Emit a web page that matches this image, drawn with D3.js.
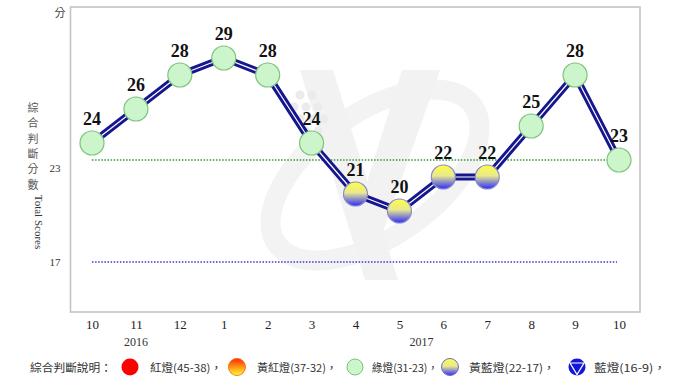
<!DOCTYPE html>
<html><head><meta charset="utf-8">
<script src="https://cdn.jsdelivr.net/npm/d3@7"></script>
<style>
html,body{margin:0;padding:0;background:#fff;}
svg{display:block;}
</style>
</head><body>
<svg id="chart" width="680" height="383"></svg>
<script>
// ---- data ----
const monthLabels = ["10","11","12","1","2","3","4","5","6","7","8","9","10"];
const scores = [24,26,28,29,28,24,21,20,22,22,25,28,23];
const yearLabels = [{text:"2016", at:1}, {text:"2017", at:7.5}];
const yTickValues = [23, 17];
const legendItems = [
  {type:"red", text:"紅燈(45-38)，"},
  {type:"yellowred", text:"黃紅燈(37-32)，"},
  {type:"green", text:"綠燈(31-23)，"},
  {type:"yellowblue", text:"黃藍燈(22-17)，"},
  {type:"blue", text:"藍燈(16-9)，"}
];
const legendTitle = "綜合判斷說明：";
const yTitleChars = ["綜","合","判","斷","分","數"];
const yTitleEn = "Total Scores";
const yUnit = "分";

// ---- drawing ----
const svg = d3.select("#chart");
const defs = svg.append("defs");
const gYB = defs.append("linearGradient").attr("id","gYB").attr("x1",0).attr("y1",0).attr("x2",0).attr("y2",1);
gYB.append("stop").attr("offset","0%").attr("stop-color","#ffff40");
gYB.append("stop").attr("offset","45%").attr("stop-color","#e8e890");
gYB.append("stop").attr("offset","100%").attr("stop-color","#2a2aff");
const gYR = defs.append("linearGradient").attr("id","gYR").attr("x1",0).attr("y1",0).attr("x2",0).attr("y2",1);
gYR.append("stop").attr("offset","0%").attr("stop-color","#ff2a00");
gYR.append("stop").attr("offset","100%").attr("stop-color","#ffff30");

const plotL = 70.5, plotR = 640, plotT = 7, plotB = 312;
const x = d3.scalePoint().domain(d3.range(monthLabels.length)).range([92, 619]);
const y = d3.scaleLinear().domain([14, 32]).range([313, 7]);

// watermark
const wm = svg.append("g").attr("fill","none").attr("stroke","#f3f3f3");
wm.append("ellipse").attr("cx",375).attr("cy",175).attr("rx",120).attr("ry",62)
  .attr("transform","rotate(-35,375,175)").attr("stroke-width",20);
wm.append("path").attr("d","M300,70 L365,280 L398,280 L333,70 Z").attr("fill","#f2f2f2").attr("stroke","none");
wm.append("path").attr("d","M402,70 L440,70 L380,240 L352,230 Z").attr("fill","#f2f2f2").attr("stroke","none");
const dots = [[300,95],[312,95],[294,107],[306,107],[318,107],[300,119],[312,119],[324,119],[306,131],[318,131]];
svg.append("g").selectAll("circle").data(dots).join("circle")
  .attr("cx",d=>d[0]).attr("cy",d=>d[1]).attr("r",4.5).attr("fill","#ebebeb");

// frame
svg.append("rect").attr("x",plotL).attr("y",plotT).attr("width",plotR-plotL).attr("height",plotB-plotT)
  .attr("fill","none").attr("stroke","#c4c4c4").attr("stroke-width",1.6);

// reference dotted lines
svg.append("line").attr("x1",x(0)).attr("x2",x(12)).attr("y1",y(23)).attr("y2",y(23))
  .attr("stroke","#2e9a3a").attr("stroke-width",1.6).attr("stroke-dasharray","1.5,1.6");
svg.append("line").attr("x1",x(0)).attr("x2",x(12)-2).attr("y1",y(17)).attr("y2",y(17))
  .attr("stroke","#3a3ad0").attr("stroke-width",1.6).attr("stroke-dasharray","1.5,1.6");

// y tick labels
svg.append("g").selectAll("text").data(yTickValues).join("text")
  .attr("x",55).attr("y",d=>y(d)+(d===23?12:4)).attr("text-anchor","middle")
  .attr("font-family","Liberation Serif").attr("font-size",11).attr("fill","#333").text(d=>d);
svg.append("text").attr("x",60).attr("y",17).attr("text-anchor","middle")
  .attr("font-family","Noto Sans CJK TC").attr("font-size",11).attr("fill","#444").text(yUnit);
// y title vertical chars
svg.append("g").selectAll("text").data(yTitleChars).join("text")
  .attr("x",33).attr("y",(d,i)=>112+i*15.3).attr("text-anchor","middle")
  .attr("font-family","Noto Sans CJK TC").attr("font-size",11).attr("fill","#555").text(d=>d);
svg.append("text").attr("transform","translate(35,222) rotate(90)").attr("text-anchor","middle")
  .attr("font-family","Liberation Serif").attr("font-size",11).attr("fill","#333").text(yTitleEn);

// x axis labels
const xAxis = d3.axisBottom(x).tickSize(0).tickPadding(0).tickFormat(i=>monthLabels[i]);
const gx = svg.append("g").attr("transform",`translate(0,${plotB+5})`).call(xAxis);
gx.select(".domain").remove();
gx.selectAll("text").attr("font-family","Liberation Serif").attr("font-size",13).attr("fill","#222").attr("dy","0.9em");
svg.append("g").selectAll("text").data(yearLabels).join("text")
  .attr("x",d=>{const i0=Math.floor(d.at), i1=Math.ceil(d.at); return (x(i0)+x(i1))/2;})
  .attr("y",346).attr("text-anchor","middle")
  .attr("font-family","Liberation Serif").attr("font-size",12).attr("fill","#333").text(d=>d.text);

// line (double line)
const line = d3.line().x((d,i)=>x(i)).y(d=>y(d));
svg.append("path").datum(scores).attr("d",line).attr("fill","none")
  .attr("stroke","#16168e").attr("stroke-width",7).attr("stroke-linejoin","round");
svg.append("path").datum(scores).attr("d",line).attr("fill","none")
  .attr("stroke","#ffffff").attr("stroke-width",1.2).attr("stroke-linejoin","round");

// markers
function markerFill(v){ return v>=23 ? "#ccf5cc" : "url(#gYB)"; }
function markerStroke(v){ return v>=23 ? "#7ec47e" : "#8a8ad0"; }
svg.append("g").selectAll("circle").data(scores).join("circle")
  .attr("cx",(d,i)=>x(i)).attr("cy",d=>y(d)).attr("r",12)
  .attr("fill",markerFill).attr("stroke",markerStroke).attr("stroke-width",1.2);

// value labels
svg.append("g").selectAll("text").data(scores).join("text")
  .attr("x",(d,i)=>x(i)).attr("y",d=>y(d)-18).attr("text-anchor","middle")
  .attr("font-family","Liberation Serif").attr("font-weight","bold").attr("font-size",18)
  .attr("fill","#111").text(d=>d);

// legend
const legY = 367;
const legendIconX = [130, 237, 355, 450, 577];
const legendTextX = [150, 257, 372, 469, 594];
const legendTextW = [72, 80, 66, 86, 72];
svg.append("text").attr("x",30).attr("y",legY+4.5).attr("font-family","Noto Sans CJK TC")
  .attr("font-size",11.5).attr("fill","#333").attr("textLength",82).attr("lengthAdjust","spacingAndGlyphs").text(legendTitle);
const lg = svg.append("g");
legendItems.forEach((it,i)=>{
  const cx = legendIconX[i];
  if(it.type==="red"){
    lg.append("circle").attr("cx",cx).attr("cy",legY).attr("r",8.5).attr("fill","#ff0000");
  } else if(it.type==="yellowred"){
    lg.append("circle").attr("cx",cx).attr("cy",legY).attr("r",8.5).attr("fill","url(#gYR)").attr("stroke","#ff5500").attr("stroke-width",0.8);
  } else if(it.type==="green"){
    lg.append("circle").attr("cx",cx).attr("cy",legY).attr("r",8).attr("fill","#ccf5cc").attr("stroke","#7ec47e").attr("stroke-width",1);
  } else if(it.type==="yellowblue"){
    lg.append("circle").attr("cx",cx).attr("cy",legY).attr("r",8.5).attr("fill","url(#gYB)").attr("stroke","#6a6ad0").attr("stroke-width",1);
  } else {
    lg.append("circle").attr("cx",cx).attr("cy",legY).attr("r",8.5).attr("fill","#1515d8");
    lg.append("path").attr("d",`M${cx-7},${legY-4} L${cx+7},${legY-4} L${cx},${legY+7.5} Z`)
      .attr("fill","none").attr("stroke","#fff").attr("stroke-width",1.2);
  }
  lg.append("text").attr("x",legendTextX[i]).attr("y",legY+4.5).attr("font-family","Noto Sans CJK TC")
    .attr("font-size",11).attr("fill","#333")
    .attr("textLength",legendTextW[i]).attr("lengthAdjust","spacingAndGlyphs").text(it.text);
});
</script>
</body></html>
